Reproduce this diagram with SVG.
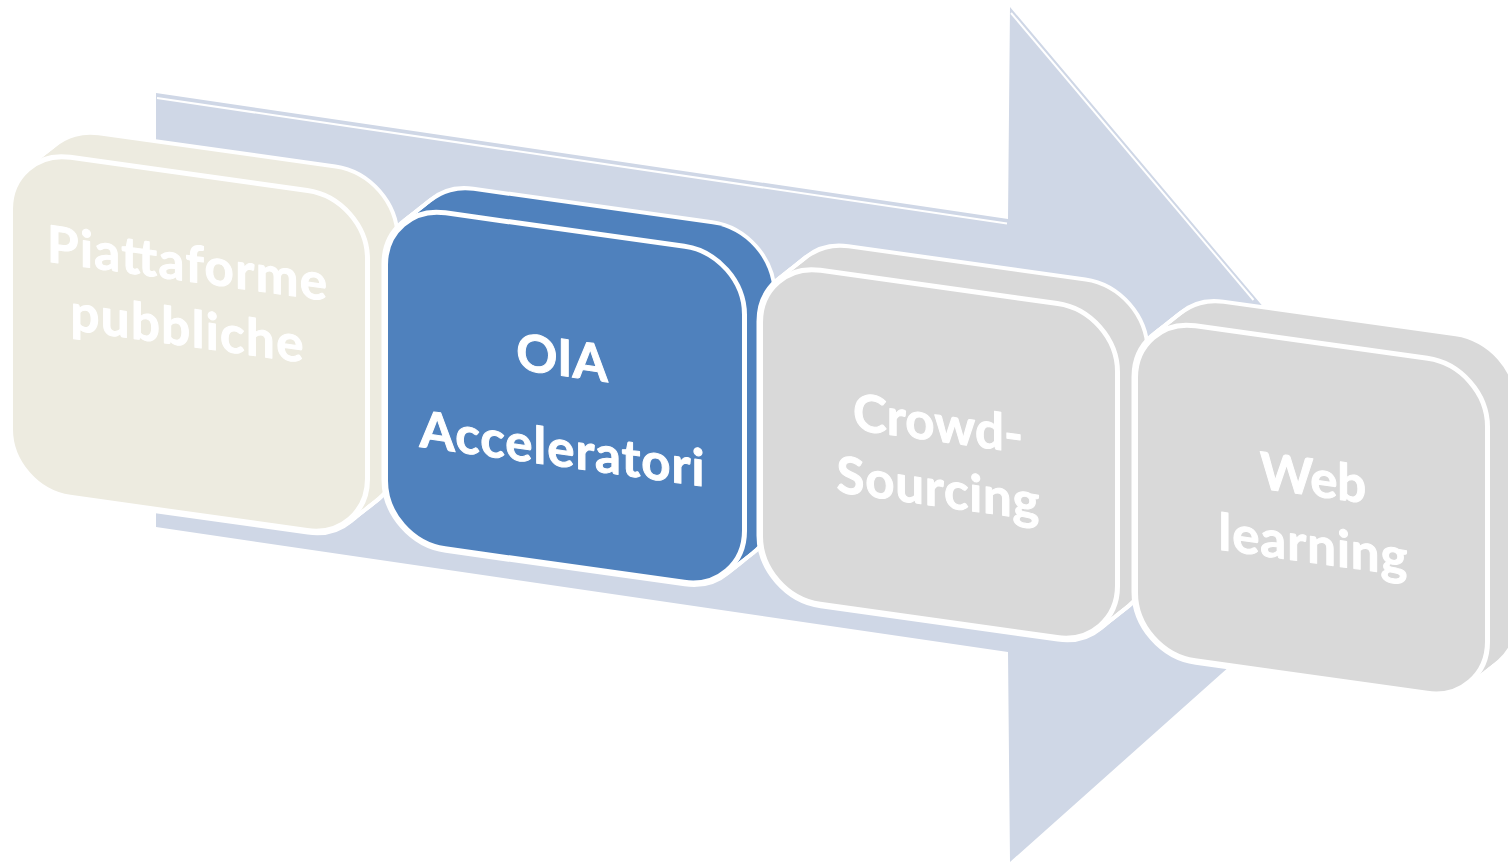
<svg xmlns="http://www.w3.org/2000/svg" xmlns:xlink="http://www.w3.org/1999/xlink" width="1508" height="864" viewBox="0 0 1508 864">
<style>
.arrow{fill:#CFD7E6}
.hl{fill:none;stroke:#FFFFFF;stroke-width:2}
.sil{stroke:#FFFFFF;stroke-width:8;stroke-linejoin:round}
.fo{stroke:none}
.front{stroke:#FFFFFF;stroke-width:5}
.lbl{font-family:Lato,"Open Sans","Liberation Sans",sans-serif;font-weight:700;font-size:51px;fill:#FFFFFF;stroke:#FFFFFF;stroke-width:1;stroke-linejoin:round;text-anchor:middle}
.beige{fill:#EDEBE0}
.blue{fill:#4F81BD}
.gray{fill:#D9D9D9}
</style>
<defs>
<rect id="f1" x="10.5" y="147.5" width="357" height="340" rx="60"/>
<rect id="f2" x="385.5" y="150.5" width="359" height="336" rx="60"/>
<rect id="f3" x="760.5" y="155.5" width="357" height="334" rx="60"/>
<rect id="f4" x="1135.5" y="158.5" width="352" height="335" rx="60"/>
<g id="s1"><use href="#f1"/><use href="#f1" transform="translate(3.5,-3.25)"/><use href="#f1" transform="translate(7,-6.5)"/><use href="#f1" transform="translate(10.5,-9.75)"/><use href="#f1" transform="translate(14,-13)"/><use href="#f1" transform="translate(17.5,-16.25)"/><use href="#f1" transform="translate(21,-19.5)"/><use href="#f1" transform="translate(24.5,-22.75)"/><use href="#f1" transform="translate(28,-26)"/></g>
<g id="s2"><use href="#f2"/><use href="#f2" transform="translate(3.5,-3.25)"/><use href="#f2" transform="translate(7,-6.5)"/><use href="#f2" transform="translate(10.5,-9.75)"/><use href="#f2" transform="translate(14,-13)"/><use href="#f2" transform="translate(17.5,-16.25)"/><use href="#f2" transform="translate(21,-19.5)"/><use href="#f2" transform="translate(24.5,-22.75)"/><use href="#f2" transform="translate(28,-26)"/></g>
<g id="s3"><use href="#f3"/><use href="#f3" transform="translate(3.5,-3.25)"/><use href="#f3" transform="translate(7,-6.5)"/><use href="#f3" transform="translate(10.5,-9.75)"/><use href="#f3" transform="translate(14,-13)"/><use href="#f3" transform="translate(17.5,-16.25)"/><use href="#f3" transform="translate(21,-19.5)"/><use href="#f3" transform="translate(24.5,-22.75)"/><use href="#f3" transform="translate(28,-26)"/></g>
<g id="s4"><use href="#f4"/><use href="#f4" transform="translate(3.5,-3.25)"/><use href="#f4" transform="translate(7,-6.5)"/><use href="#f4" transform="translate(10.5,-9.75)"/><use href="#f4" transform="translate(14,-13)"/><use href="#f4" transform="translate(17.5,-16.25)"/><use href="#f4" transform="translate(21,-19.5)"/><use href="#f4" transform="translate(24.5,-22.75)"/><use href="#f4" transform="translate(28,-26)"/></g>
</defs>
<rect width="1508" height="864" fill="#FFFFFF"/>
<g id="arrow-background">
<polygon class="arrow" points="156,93 1008,219 1010,7 1422,495 1010,862 1008,652 156,527"/>
<polyline class="hl" points="157,98 1007,223.5"/>
<polyline class="hl" points="1011,13 1253.5,300"/>
</g>
<g id="connectors"></g>
<g id="node-piattaforme" class="beige" transform="matrix(1,0.14,0,1,0,0)">
<use href="#s1" class="sil"/>
<use href="#s1" class="fo"/>
<use href="#f1" class="front"/>
<text class="lbl" x="187" y="255" textLength="280">Piattaforme</text>
<text class="lbl" x="187" y="320" textLength="233">pubbliche</text>
</g>
<g id="node-oia" class="blue" transform="matrix(1,0.14,0,1,0,0)">
<use href="#s2" class="sil"/>
<use href="#s2" class="fo"/>
<use href="#f2" class="front"/>
<text class="lbl" x="562" y="297">OIA</text>
<text class="lbl" x="562" y="388" textLength="285">Acceleratori</text>
</g>
<g id="node-crowd" class="gray" transform="matrix(1,0.14,0,1,0,0)">
<use href="#s3" class="sil"/>
<use href="#s3" class="fo"/>
<use href="#f3" class="front"/>
<text class="lbl" x="938" y="310" textLength="170">Crowd-</text>
<text class="lbl" x="938" y="375" textLength="203">Sourcing</text>
</g>
<g id="node-web" class="gray" transform="matrix(1,0.14,0,1,0,0)">
<use href="#s4" class="sil"/>
<use href="#s4" class="fo"/>
<use href="#f4" class="front"/>
<text class="lbl" x="1313" y="312">Web</text>
<text class="lbl" x="1313" y="379" textLength="189">learning</text>
</g>
</svg>
